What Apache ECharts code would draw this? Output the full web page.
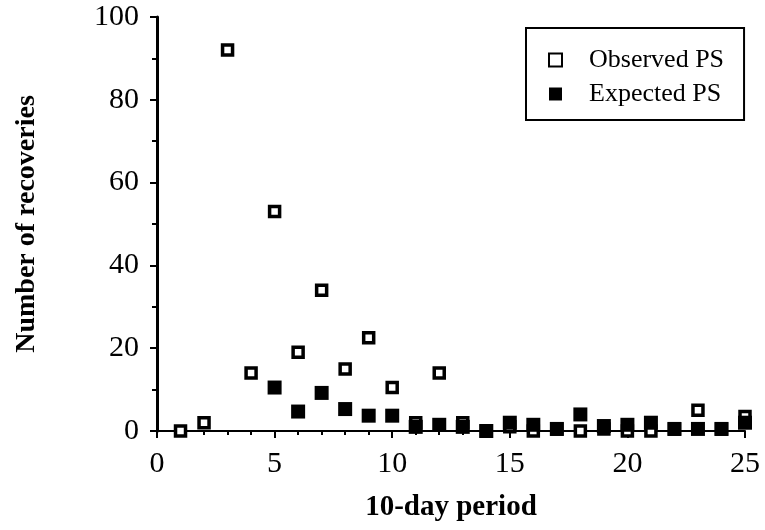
<!DOCTYPE html>
<html>
<head>
<meta charset="utf-8">
<script src="https://cdn.jsdelivr.net/npm/echarts@6/dist/echarts.min.js"></script>
<style>
  html, body { margin: 0; padding: 0; background: #fff; }
  #chart { width: 765px; height: 530px; }
</style>
</head>
<body>
<div id="chart"></div>
<script>
const periods = [1, 2, 3, 4, 5, 6, 7, 8, 9, 10, 11, 12, 13, 14, 15, 16, 17, 18, 19, 20, 21, 22, 23, 24, 25];
const observedPS = [0, 2, 92, 14, 53, 19, 34, 15, 22.5, 10.5, 2, 14, 2, 0, 1, 0, 0.5, 0, 0.5, 0, 0, 0.5, 5, 0.5, 3.5];
const expectedPS = [null, null, null, null, 10.5, 4.7, 9.2, 5.3, 3.7, 3.7, 1, 1.5, 1, 0, 2, 1.5, 0.5, 4, 1.2, 1.5, 2, 0.5, 0.5, 0.5, 2];
const yTicks = [0, 20, 40, 60, 80, 100];
const xTicks = [0, 5, 10, 15, 20, 25];

const toPoints = (vals) =>
  periods.map((p, i) => [p, vals[i]]).filter((d) => d[1] !== null);

const font = "'Liberation Serif', 'DejaVu Serif', serif";

const chart = echarts.init(document.getElementById("chart"));
chart.setOption({
  animation: false,
  backgroundColor: "#fff",
  textStyle: { fontFamily: font, color: "#000" },
  grid: { left: 157, right: 20, top: 17, bottom: 99 },
  legend: {
    left: 526,
    top: 28,
    orient: "vertical",
    padding: [19, 20, 13, 22],
    itemGap: 8,
    itemWidth: 13,
    itemHeight: 13,
    borderColor: "#000",
    borderWidth: 2,
    textStyle: { fontFamily: font, fontSize: 26, lineHeight: 26, color: "#000", padding: [0, 0, 0, 22] },
    data: ["Observed PS", "Expected PS"]
  },
  xAxis: {
    type: "value",
    min: xTicks[0],
    max: xTicks[xTicks.length - 1],
    interval: 5,
    name: "10-day period",
    nameLocation: "middle",
    nameGap: 62,
    nameTextStyle: { fontFamily: font, fontSize: 29, fontWeight: "bold", color: "#000" },
    axisLine: { lineStyle: { color: "#000", width: 2 } },
    axisTick: { length: 7, lineStyle: { color: "#000", width: 2 } },
    minorTick: { show: true, splitNumber: 5, length: 4, lineStyle: { color: "#000", width: 2 } },
    axisLabel: { fontFamily: font, fontSize: 30, color: "#000", margin: 18 },
    splitLine: { show: false }
  },
  yAxis: {
    type: "value",
    min: yTicks[0],
    max: yTicks[yTicks.length - 1],
    interval: 20,
    name: "Number of recoveries",
    nameLocation: "middle",
    nameGap: 116,
    nameTextStyle: { fontFamily: font, fontSize: 28, fontWeight: "bold", color: "#000" },
    axisLine: { show: true, lineStyle: { color: "#000", width: 3 } },
    axisTick: { show: true, length: 7, lineStyle: { color: "#000", width: 2 } },
    minorTick: { show: true, splitNumber: 2, length: 5, lineStyle: { color: "#000", width: 2 } },
    axisLabel: { fontFamily: font, fontSize: 30, color: "#000", margin: 18 },
    splitLine: { show: false }
  },
  series: [
    {
      name: "Observed PS",
      type: "scatter",
      symbol: "rect",
      symbolSize: 10,
      itemStyle: { color: "#fff", borderColor: "#000", borderWidth: 3.5, opacity: 1 },
      data: toPoints(observedPS),
      z: 2
    },
    {
      name: "Expected PS",
      type: "scatter",
      symbol: "rect",
      symbolSize: 14,
      itemStyle: { color: "#000", opacity: 1 },
      data: toPoints(expectedPS),
      z: 3
    }
  ]
});
</script>
</body>
</html>
